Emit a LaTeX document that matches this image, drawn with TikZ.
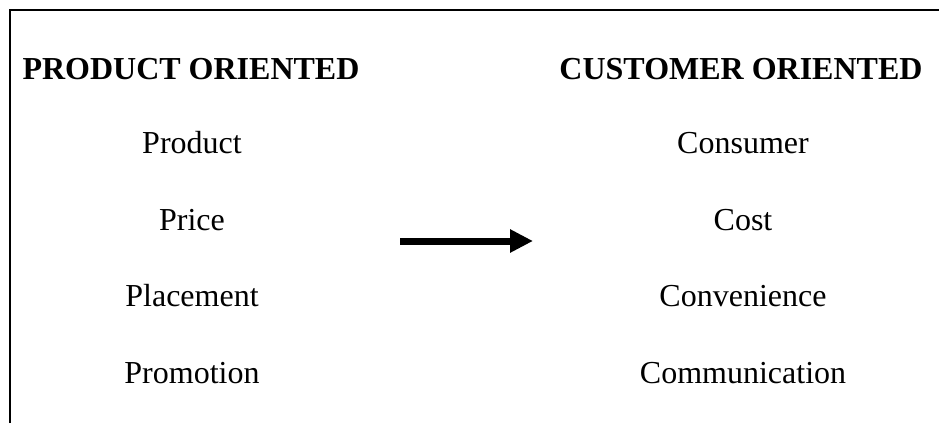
\documentclass[tikz,border=0pt]{standalone}
\usepackage{fontspec}
\setmainfont{Liberation Serif}
\usetikzlibrary{arrows.meta}
\begin{document}
\begin{tikzpicture}[x=1pt,y=-1pt,
  lbl/.style={anchor=base,inner sep=0pt,font=\fontsize{32}{38}\selectfont},
  head/.style={lbl,font=\fontsize{32}{38}\selectfont\bfseries},
  frameline/.style={line width=2.2pt}]
\useasboundingbox (0,0) rectangle (939,423);
\draw[frameline] (10,423) -- (10,10) -- (939,10);
\node[head] (h1) at (191,79) {PRODUCT ORIENTED};
\node[head] (h2) at (741,79) {CUSTOMER ORIENTED};
\node[lbl] (l1) at (192,153) {Product};
\node[lbl] (l2) at (192,230) {Price};
\node[lbl] (l3) at (192,306) {Placement};
\node[lbl] (l4) at (192,383) {Promotion};
\node[lbl] (r1) at (743,153) {Consumer};
\node[lbl] (r2) at (743,230) {Cost};
\node[lbl] (r3) at (743,306) {Convenience};
\node[lbl] (r4) at (743,383) {Communication};
\coordinate (a1) at (400,241);
\coordinate (a2) at (533,241);
\draw[line width=7pt,-{Triangle[length=23pt 0,width=22pt 0]}] (a1) -- (a2);
\end{tikzpicture}
\end{document}
